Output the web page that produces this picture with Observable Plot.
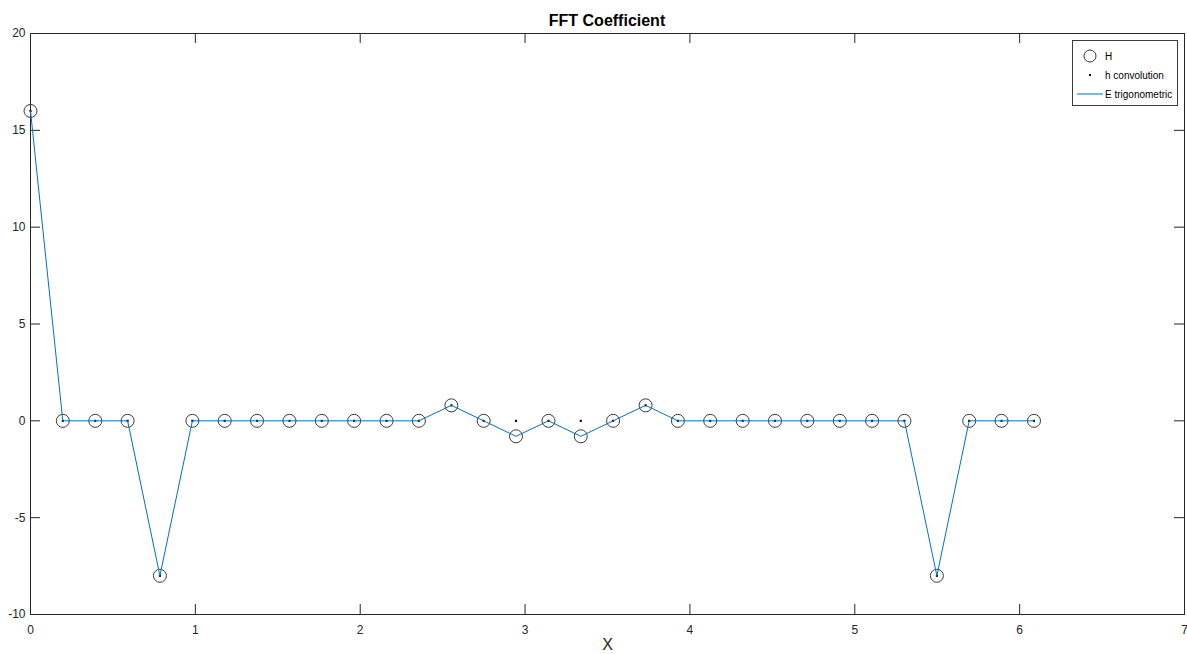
<!DOCTYPE html>
<html>
<head>
<meta charset="utf-8">
<script src="https://cdn.jsdelivr.net/npm/d3@7"></script>
<script src="https://cdn.jsdelivr.net/npm/@observablehq/plot@0.6"></script>
<style>
  html, body { margin: 0; padding: 0; background: #fff; }
  #wrap { position: relative; width: 1187px; height: 654px; font-family: "Liberation Sans", Arial, sans-serif; }
  #title { position: absolute; left: 0; width: 1214px; top: 12px; text-align: center; font-weight: bold; font-size: 16px; color: #000; }
  #legend { position: absolute; left: 1072px; top: 40px; width: 104px; height: 64px; border: 1px solid #3a3a3a; background: #fff; font-size: 10px; color: #000; }
  .row { position: absolute; left: 0; height: 16px; display: flex; align-items: center; }
  .row svg { width: 28px; height: 16px; margin-left: 3px; }
  .row span { margin-left: 1px; }
</style>
</head>
<body>
<div id="wrap">
  <div id="chart"></div>
  <div id="title">FFT Coefficient</div>
  <div id="legend">
    <div class="row" style="top:7px"><svg><circle cx="14" cy="8" r="6" fill="none" stroke="#333" stroke-width="1"/></svg><span>H</span></div>
    <div class="row" style="top:26px"><svg><rect x="13" y="7" width="2" height="2" fill="#000"/></svg><span>h convolution</span></div>
    <div class="row" style="top:45px"><svg><line x1="1" y1="8" x2="27" y2="8" stroke="#0072bd" stroke-width="1"/></svg><span>E trigonometric</span></div>
  </div>
</div>
<script>
const xs = [0, 0.196, 0.393, 0.589, 0.785, 0.982, 1.178, 1.374, 1.571, 1.767, 1.963, 2.160, 2.356, 2.553, 2.749, 2.945,
            3.142, 3.338, 3.534, 3.731, 3.927, 4.123, 4.320, 4.516, 4.712, 4.909, 5.105, 5.301, 5.498, 5.694, 5.890, 6.087];
const H = [16, 0, 0, 0, -8, 0, 0, 0, 0, 0, 0, 0, 0, 0.8, 0, -0.8,
           0, -0.8, 0, 0.8, 0, 0, 0, 0, 0, 0, 0, 0, -8, 0, 0, 0];
const hConv = [16, 0, 0, 0, -8, 0, 0, 0, 0, 0, 0, 0, 0, 0.8, 0, 0,
               0, 0, 0, 0.8, 0, 0, 0, 0, 0, 0, 0, 0, -8, 0, 0, 0];
const Etrig = [16, 0, 0, 0, -8, 0, 0, 0, 0, 0, 0, 0, 0, 0.8, 0, -0.8,
               0, -0.8, 0, 0.8, 0, 0, 0, 0, 0, 0, 0, 0, -8, 0, 0, 0];
const xTicks = [0, 1, 2, 3, 4, 5, 6, 7];
const yTicks = [-10, -5, 0, 5, 10, 15, 20];
const xLabel = "X";

const dH = xs.map((x, i) => ({x, y: H[i]}));
const dh = xs.map((x, i) => ({x, y: hConv[i]}));
const dE = xs.map((x, i) => ({x, y: Etrig[i]}));

const axisColor = "#262626";
const fmt = d => String(d);
const chart = Plot.plot({
  width: 1187,
  height: 654,
  marginLeft: 30,
  marginRight: 3,
  marginTop: 33,
  marginBottom: 40,
  style: {fontFamily: "Liberation Sans, Arial, sans-serif", fontSize: "12px", color: "#262626", background: "#fff"},
  x: {domain: [0, 7], ticks: xTicks, label: null},
  y: {domain: [-10, 20], ticks: yTicks, label: null},
  marks: [
    Plot.frame({stroke: axisColor, strokeWidth: 1}),
    Plot.axisX(xTicks, {anchor: "bottom", tickSize: 0, tickPadding: 11, fontSize: 12, fill: "#262626", tickFormat: fmt}),
    Plot.axisY(yTicks, {anchor: "left", tickSize: 0, tickPadding: 5, fontSize: 12, fill: "#262626", tickFormat: fmt}),
    Plot.tickX(xTicks, {x: d => d, stroke: axisColor, insetTop: 571}),
    Plot.tickX(xTicks, {x: d => d, stroke: axisColor, insetBottom: 571}),
    Plot.tickY(yTicks, {y: d => d, stroke: axisColor, insetRight: 1144}),
    Plot.tickY(yTicks, {y: d => d, stroke: axisColor, insetLeft: 1144}),
    Plot.text([xLabel], {frameAnchor: "bottom", dy: 35, fontSize: 16, fill: "#262626", dx: 0}),
    Plot.dot(dH, {x: "x", y: "y", r: 6.5, stroke: "#3a3a3a", strokeWidth: 1, fill: "none"}),
    Plot.dot(dh, {x: "x", y: "y", r: 1.2, symbol: "square", fill: "#000", stroke: "none"}),
    Plot.line(dE, {x: "x", y: "y", stroke: "#0072bd", strokeWidth: 1})
  ]
});
document.getElementById("chart").appendChild(chart);
</script>
</body>
</html>
